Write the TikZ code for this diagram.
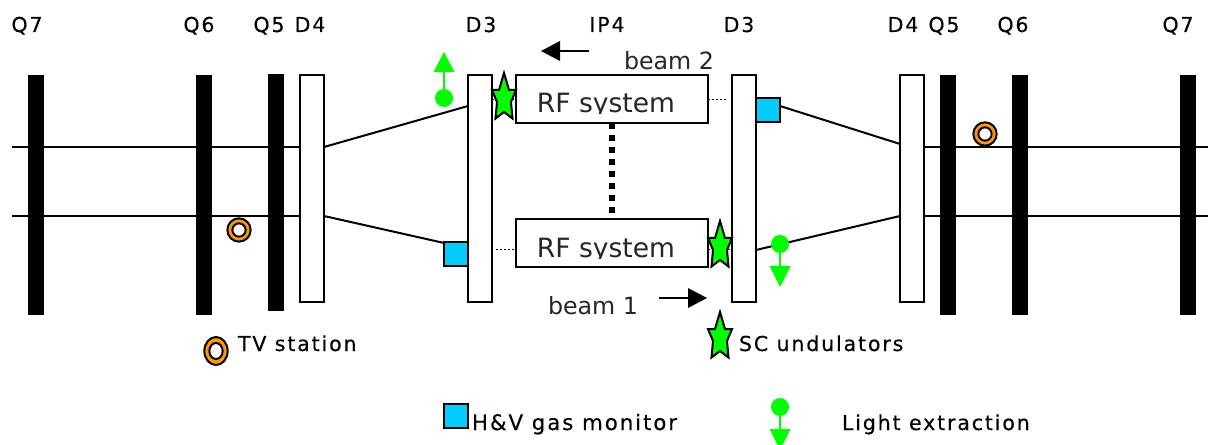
\documentclass[tikz,border=0pt]{standalone}
\usepackage{fontspec}
\usetikzlibrary{shapes.geometric}
\setmainfont{DejaVu Sans}
\newfontfamily\spacedfont[LetterSpace=9,FakeBold=0.3]{DejaVu Sans}
\definecolor{gmon}{RGB}{0,204,255}
\definecolor{tvor}{RGB}{255,153,0}
\definecolor{grn}{RGB}{0,255,0}
\tikzset{
  qbar/.style={draw=none,fill=black,rectangle,inner sep=0pt,outer sep=0pt,minimum width=12pt},
  dbox/.style={draw=black,fill=white,line width=1.5pt,rectangle,inner sep=0pt,outer sep=0pt,minimum width=18pt,minimum height=170.25pt},
  rfbox/.style={draw=black,fill=white,line width=1.5pt,rectangle,inner sep=0pt,outer sep=0pt,minimum width=144pt,minimum height=36pt},
  monbox/.style={draw=black,fill=gmon,line width=1.5pt,rectangle,inner sep=0pt,outer sep=0pt,minimum width=18pt,minimum height=18pt},
  tvring/.style={circle,draw=black,fill=white,line width=1.5pt,inner sep=0pt,outer sep=0pt,minimum size=10pt},
  tvouter/.style={circle,draw=black,fill=tvor,line width=1.5pt,inner sep=0pt,outer sep=0pt,minimum size=17.5pt},
  lbl/.style={inner sep=0pt,outer sep=0pt,font=\spacedfont\fontsize{15.4pt}{18pt}\selectfont,text=black},
  biglbl/.style={inner sep=0pt,outer sep=0pt,font=\fontsize{19.9pt}{22pt}\selectfont,text=black!85},
  midlbl/.style={inner sep=0pt,outer sep=0pt,font=\fontsize{17.8pt}{20pt}\selectfont,text=black!85},
  bline/.style={line width=1.5pt,draw=black},
  hline/.style={line width=1.2pt,draw=black},
  dotl/.style={line width=1.1pt,draw=black,dash pattern=on 1.5pt off 1.5pt},
  starpic/.pic={\draw[fill=grn,draw=black,line width=1.5pt,line join=miter]
     (0,-23)--(5,-6)--(12,-6)--(7,6)--(8.5,22.5)--(0,16)--(-8.5,22.5)--(-7,6)--(-12,-6)--(-5,-6)--cycle;},
  stem/.style={line width=1.5pt,draw=grn},
  ball/.style={circle,fill=grn,draw=none,inner sep=0pt,outer sep=0pt,minimum size=13.5pt},
  tri/.style={fill=grn,draw=none},
  bigarrow/.style={line width=1.5pt,draw=black},
  bighead/.style={fill=black,draw=none},
}
\begin{document}
\begin{tikzpicture}[x=0.75pt,y=-0.75pt]
\clip (0,0) rectangle (1210,445);
% free ends
\coordinate (e1) at (12,147);
\coordinate (e2) at (12,216);
\coordinate (e3) at (1208,147);
\coordinate (e4) at (1208,216);
\coordinate (x1) at (300,147);
\coordinate (x2) at (300,216);
\coordinate (x3) at (924,147);
\coordinate (x4) at (924,216);
\draw[hline] (e1) -- (x1);
\draw[hline] (e2) -- (x2);
\draw[hline] (e3) -- (x3);
\draw[hline] (e4) -- (x4);
% magnets
\node[qbar,minimum height=180pt] (q7l) at (36,195) {};
\node[qbar,minimum height=180pt] (q6l) at (204,195) {};
\node[qbar,minimum height=177.75pt] (q5l) at (276,192.5) {};
\node[dbox] (d4l) at (312,188.5) {};
\node[dbox] (d3l) at (480,188.5) {};
\node[dbox] (d3r) at (744,188.5) {};
\node[dbox] (d4r) at (912,188.5) {};
\node[qbar,minimum height=180pt] (q5r) at (948,195) {};
\node[qbar,minimum height=180pt] (q6r) at (1020,195) {};
\node[qbar,minimum height=180pt] (q7r) at (1188,195) {};
% RF boxes
\node[rfbox] (rf2) at (612,99) {};
\node[rfbox] (rf1) at (612,243) {};
\begin{scope}
  \clip (520,85) rectangle (700,114);
  \node[biglbl,anchor=base] (rf2t) at (606,113) {RF system};
\end{scope}
\begin{scope}
  \clip (520,229) rectangle (700,259);
  \node[biglbl,anchor=base] (rf1t) at (606,258) {RF system};
\end{scope}
% monitors
\node[monbox] (monr) at (768,110) {};
\node[monbox] (monl) at (456,254) {};
\node[monbox] (monleg) at (456,416) {};
% chamber lines
\coordinate (a1) at (324,147); \coordinate (a2) at (468,106);
\coordinate (a3) at (324,216); \coordinate (a4) at (444,243);
\coordinate (a5) at (780,106); \coordinate (a6) at (900,144);
\coordinate (a7) at (756,250); \coordinate (a8) at (900,216);
\draw[bline] (a1) -- (a2);
\draw[bline] (a3) -- (a4);
\draw[bline] (a5) -- (a6);
\draw[bline] (a7) -- (a8);
% dotted
\coordinate (dr1) at (708,99.5); \coordinate (dr2) at (728,99.5);
\coordinate (dl1) at (496,249.5); \coordinate (dl2) at (516,249.5);
\coordinate (ds1) at (492,99.5); \coordinate (ds2) at (516,99.5);
\coordinate (ds3) at (708,249.5); \coordinate (ds4) at (732,249.5);
\draw[dotl] (dr1) -- (dr2);
\draw[dotl] (dl1) -- (dl2);
\draw[dotl] (ds1) -- (ds2);
\draw[dotl] (ds3) -- (ds4);
\coordinate (vd) at (612,215);
\draw[line width=4.5pt,dash pattern=on 4.5pt off 4.5pt] (rf2.south) -- (vd);
% stars
\path (504,96) pic {starpic};
\path (720,244) pic {starpic};
\path (720,335) pic {starpic};
% light extraction
\node[ball] (b1) at (444,98) {};
\coordinate (t1) at (444,70);
\draw[stem] (b1) -- (t1);
\fill[tri] (444,52) -- (454.5,72) -- (433.5,72) -- cycle;
\node[ball] (b2) at (780,244) {};
\coordinate (t2) at (780,268);
\draw[stem] (b2) -- (t2);
\fill[tri] (780,287) -- (769.5,266) -- (790.5,266) -- cycle;
\node[ball] (b3) at (780,407) {};
\coordinate (t3) at (780,431);
\draw[stem] (b3) -- (t3);
\fill[tri] (780,450) -- (769.5,429) -- (790.5,429) -- cycle;
% TV
\node[tvouter] (tv1o) at (985,134) {};
\node[tvring] (tv1) at (985,134) {};
\node[tvouter] (tv2o) at (239,230) {};
\node[tvring] (tv2) at (239,230) {};
\node[ellipse,draw=black,fill=tvor,line width=1.5pt,inner sep=0pt,outer sep=0pt,minimum width=17.5pt,minimum height=21pt] (tv3o) at (216,351) {};
\node[ellipse,draw=black,fill=white,line width=1.5pt,inner sep=0pt,outer sep=0pt,minimum width=10pt,minimum height=12pt] (tv3) at (216,351) {};
% beam arrows
\coordinate (ba1) at (589,51); \coordinate (ba2) at (559,51);
\draw[bigarrow] (ba1) -- (ba2);
\fill[bighead] (541,51) -- (560,41) -- (560,61) -- cycle;
\coordinate (bb1) at (659,298); \coordinate (bb2) at (689,298);
\draw[bigarrow] (bb1) -- (bb2);
\fill[bighead] (707,298) -- (688,288) -- (688,308) -- cycle;
% labels
\node[lbl,anchor=base] (lq7l) at (27,32) {Q7};
\node[lbl,anchor=base] (lq6l) at (199,32) {Q6};
\node[lbl,anchor=base] (lq5l) at (269,32) {Q5};
\node[lbl,anchor=base] (ld4l) at (310,32) {D4};
\node[lbl,anchor=base] (ld3l) at (481,32) {D3};
\node[lbl,anchor=base] (lip) at (607,32) {IP4};
\node[lbl,anchor=base] (ld3r) at (739,32) {D3};
\node[lbl,anchor=base] (ld4r) at (903,32) {D4};
\node[lbl,anchor=base] (lq5r) at (944,32) {Q5};
\node[lbl,anchor=base] (lq6r) at (1013,32) {Q6};
\node[lbl,anchor=base] (lq7r) at (1178,32) {Q7};
\node[midlbl,anchor=base west] (lb2) at (624,70) {beam 2};
\node[midlbl,anchor=base west] (lb1) at (548,315) {beam 1};
\node[lbl,anchor=base west] (ltv) at (238,351) {TV station};
\node[lbl,anchor=base west] (lsc) at (739,351) {SC undulators};
\node[lbl,anchor=base west,font=\spacedfont\fontsize{16pt}{18pt}\selectfont] (lhv) at (472,430) {H\&V gas monitor};
\node[lbl,anchor=base west] (lle) at (842,430) {Light extraction};
\end{tikzpicture}
\end{document}
